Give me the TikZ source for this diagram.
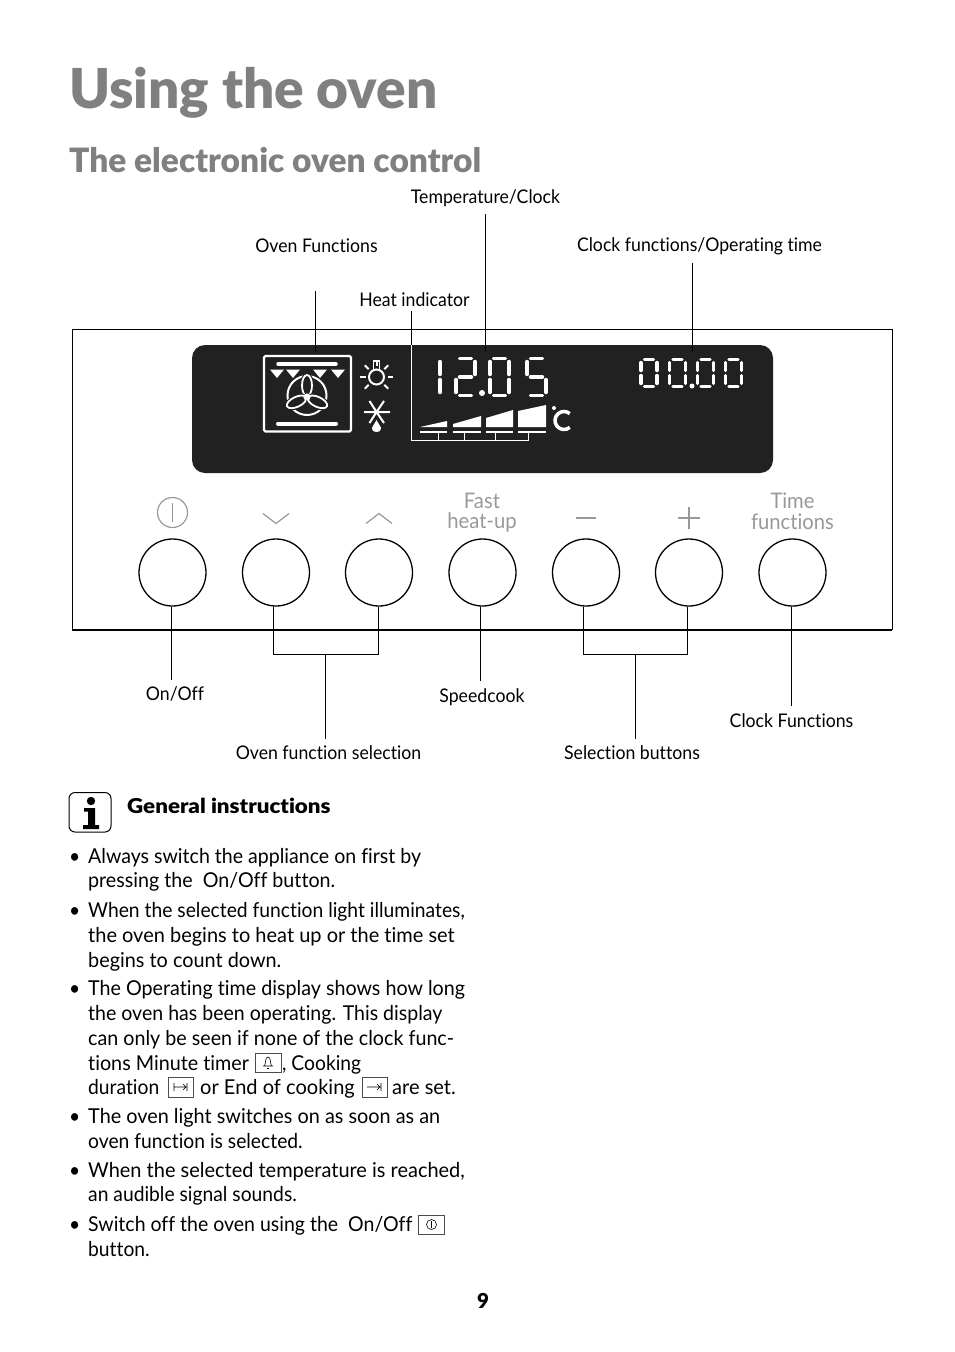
\documentclass[tikz,border=0pt]{standalone}
\usepackage{fontspec}
\usepackage{graphicx}
\usetikzlibrary{calc}
\setmainfont[Ligatures=NoCommon,FakeStretch=0.94]{Lato}
\newfontfamily\blk[Ligatures=NoCommon]{Lato Black}
\definecolor{dk}{gray}{0.13}
\definecolor{ttl}{gray}{0.5}
\definecolor{gic}{gray}{0.6}
\tikzset{
 x=1pt,y=-1pt,
 body/.style={anchor=base west,inner sep=0pt,font=\fontsize{20.5}{24}\selectfont,text=black},
 lbl/.style={inner sep=0pt,font=\fontsize{18.8}{22}\selectfont,text=black},
 gl/.style={inner sep=0pt,font=\fontsize{21.5}{21}\selectfont,text=gic},
 btn/.style={circle,draw=black,line width=1.3pt,fill=white,minimum size=67pt,inner sep=0pt},
 conn/.style={draw=black,line width=0.8pt},
 seg/.style={draw=white,line width=3.4pt,line cap=round},
 wl/.style={draw=white,line width=2pt},
 ic/.style={draw=white,line width=1.8pt},
 kbox/.style={draw=black!70,line width=0.6pt,fill=white},
 kic/.style={draw=black,line width=0.6pt},
 gic/.style={draw=gic,line width=1.2pt}
}
\newcommand\dig[5]{\def\X{#1}\def\Y{#2}\def\W{#3}\def\H{#4}#5}
\newcommand\sga{\draw[seg] (\X+3.5,\Y) -- (\X+\W-3.5,\Y);}
\newcommand\sgb{\draw[seg] (\X+\W,\Y+3) -- (\X+\W,\Y+\H/2-2.5);}
\newcommand\sgc{\draw[seg] (\X+\W,\Y+\H/2+2.5) -- (\X+\W,\Y+\H-3);}
\newcommand\sgd{\draw[seg] (\X+3.5,\Y+\H) -- (\X+\W-3.5,\Y+\H);}
\newcommand\sge{\draw[seg] (\X,\Y+\H/2+2.5) -- (\X,\Y+\H-3);}
\newcommand\sgf{\draw[seg] (\X,\Y+3) -- (\X,\Y+\H/2-2.5);}
\newcommand\sgg{\draw[seg] (\X+3.5,\Y+\H/2) -- (\X+\W-3.5,\Y+\H/2);}
\newcommand\tl[5][1]{\node[body] (#2) at (#3,#4) {\scalebox{#1}[1]{#5}};}
\begin{document}
\begin{tikzpicture}
\useasboundingbox (0,0) rectangle (954,1352);
\fill[white] (0,0) rectangle (954,1352);
% titles
\node[anchor=base west,inner sep=0pt,text=ttl,font=\fontsize{55}{60}\selectfont\blk] (title) at (69,108.5) {Using the oven};
\node[anchor=base west,inner sep=0pt,text=ttl,font=\fontsize{33.5}{36}\selectfont\blk] (sub) at (69,172) {The electronic oven control};
% panel
\draw[black,line width=0.6pt] (72,630) -- (72,329.5) -- (892,329.5) -- (892,630);
\draw[black,line width=1.2pt] (72,630) -- (892,630);
\fill[dk,rounded corners=13pt] (192,345) rectangle (773,473);
% labels
\node[lbl] (lTemp) at (485.5,198) {Temperature/Clock};
\node[lbl] (lOven) at (316.5,245.5) {Oven Functions};
\node[lbl] (lClock) at (699.5,246) {Clock functions/Operating time};
\node[lbl] (lHeat) at (414.5,299.5) {Heat indicator};
\node[lbl] (lOnOff) at (175,694) {On/Off};
\node[lbl] (lSpeed) at (482,697) {Speedcook};
\node[lbl] (lCF) at (791.5,720.5) {Clock Functions};
\node[lbl] (lOFS) at (328.5,752.5) {Oven function selection};
\node[lbl] (lSB) at (632,752.5) {Selection buttons};
% top connectors
\coordinate (cOvenT) at (315,291);
\coordinate (cOvenB) at (315,352);
\coordinate (cTempT) at (485,214);
\coordinate (cTempB) at (485,352);
\coordinate (cClockT) at (692,263);
\coordinate (cClockB) at (692,352);
\coordinate (cHeatT) at (411,311);
\coordinate (cHeatB) at (411,345);
\draw[conn] (cOvenT) -- (cOvenB);
\draw[conn] (cTempT) -- (cTempB);
\draw[conn] (cClockT) -- (cClockB);
\draw[conn] (cHeatT) -- (cHeatB);
% oven icon
\draw[white,line width=2.2pt,rounded corners=1.5pt] (264,356) rectangle (351,431.5);
\draw[white,line width=3.5pt,line cap=round] (278,364) -- (336,364);
\draw[white,line width=4pt,line cap=round] (278,423.5) -- (336,423.5);
\foreach \tx in {277,293,320,338}{
  \fill[white] (\tx-7,369.5) -- (\tx+7,369.5) -- (\tx,378) -- cycle;
}
\draw[white,line width=2pt] (307,395.5) circle (19.5);
\foreach \a in {90,205,335}{
  \begin{scope}[shift={(307,397)},rotate=\a]
   \draw[draw=dk,line width=4pt,fill=dk] (11.5,0) ellipse (10.5 and 5);
   \draw[ic,fill=dk] (11.5,0) ellipse (10.5 and 5);
  \end{scope}
}
\draw[ic,fill=white] (307,397) circle (2.6);
% lamp
\draw[white,line width=2pt] (376.5,377) circle (7.5);
\draw[white,line width=1.8pt] (373.5,369.5) -- (373.5,361) -- (379.5,361) -- (379.5,369.5);
\foreach \a in {0,45,135,180,225,270,315}{
  \draw[white,line width=2pt] ($(376.5,377)+(\a:11)$) -- ($(376.5,377)+(\a:16.5)$);
}
% snowflake
\draw[white,line width=2pt] (364,412) -- (390,412) (369.5,401) -- (376.5,412) -- (384,401) (369.5,423) -- (376.5,412) -- (384,423);
\fill[white] (376.5,420) .. controls (379,425) and (381.5,427) .. (381,429) .. controls (380.5,433) and (372.5,433) .. (372,429) .. controls (371.5,427) and (374,425) .. (376.5,420) -- cycle;
% digits
\dig{440}{358.5}{0}{37}{\sgb\sgc}
\dig{456}{358.5}{19}{37}{\sga\sgb\sgg\sge\sgd}
\dig{490}{358.5}{19}{37}{\sga\sgb\sgc\sgd\sge\sgf}
\dig{527}{358.5}{19}{37}{\sga\sgf\sgg\sgc\sgd}
\fill[white] (482,393) circle (3);
\dig{641}{359.5}{16}{27}{\sga\sgb\sgc\sgd\sge\sgf}
\dig{669.5}{359.5}{16}{27}{\sga\sgb\sgc\sgd\sge\sgf}
\dig{697.5}{359.5}{16}{27}{\sga\sgb\sgc\sgd\sge\sgf}
\dig{725.5}{359.5}{16}{27}{\sga\sgb\sgc\sgd\sge\sgf}
\fill[white] (692,386) circle (2.5);
% heat bars
\fill[white] (420,427) -- (447,421) -- (447,427) -- cycle;
\fill[white] (453,427) -- (453,424) -- (481,416) -- (481,427) -- cycle;
\fill[white] (486,427) -- (486,418) -- (513,410) -- (513,427) -- cycle;
\fill[white] (518,427) -- (518,411) -- (546,405) -- (546,427) -- cycle;
\foreach \a/\b in {420/447,453/481,486/513,518/546}{
  \draw[wl] (\a,432) -- (\b,432);
}
\draw[white,line width=1pt] (411,345) -- (411,440) -- (528,440);
\foreach \tx in {438,464,495,528}{
  \draw[white,line width=1pt] (\tx,432) -- (\tx,441);
}
% deg C
\fill[white] (554,408) circle (2);
\draw[white,line width=3.5pt] ($(564,420.5)+(50:9)$) arc[start angle=50,end angle=310,radius=9];
% gray symbols
\draw[gic] (172.5,512.5) circle (15);
\draw[gic] (172.5,503) -- (172.5,522);
\draw[gic] (263,513.5) -- (276,523.5) -- (289,513.5);
\draw[gic] (366,523.5) -- (379,513.5) -- (392,523.5);
\draw[gic,line width=2pt] (576,517.5) -- (596,517.5);
\draw[gic] (678,518) -- (700,518) (689,507) -- (689,529);
\node[gl] (gFast) at (482,500.5) {Fast};
\node[gl] (gHeat) at (482,522) {heat-up};
\node[gl] (gTime) at (792.5,500.5) {Time};
\node[gl] (gFunc) at (792.5,522) {functions};
% buttons
\foreach \n/\bx in {b1/172.5,b2/276,b3/379,b4/482.5,b5/586,b6/689,b7/792.5}{
  \node[btn] (\n) at (\bx,572.5) {};
}
% bottom connectors
\coordinate (cOn) at (171,680);
\coordinate (cSp) at (480,681);
\coordinate (cCF) at (791,706);
\coordinate (cA1) at (273,654.5);
\coordinate (cA2) at (378,654.5);
\coordinate (cA3) at (325,654.5);
\coordinate (cA4) at (325,739);
\coordinate (cB1) at (583,654.5);
\coordinate (cB2) at (687.5,654.5);
\coordinate (cB3) at (635,654.5);
\coordinate (cB4) at (635,739);
\draw[conn] (b1.south -| cOn) -- (cOn);
\draw[conn] (b4.south -| cSp) -- (cSp);
\draw[conn] (b7.south -| cCF) -- (cCF);
\draw[conn] (b2.south -| cA1) -- (cA1) -- (cA2) -- (b3.south -| cA2);
\draw[conn] (cA3) -- (cA4);
\draw[conn] (b5.south -| cB1) -- (cB1) -- (cB2) -- (b6.south -| cB2);
\draw[conn] (cB3) -- (cB4);
% info icon
\draw[black,line width=1pt,rounded corners=6pt] (69,792.5) rectangle (111,832);
\fill[black] (91,801) circle (4.2);
\fill[black] (84,808) -- (95,808) -- (95,825) -- (99,825) -- (99,829) -- (83,829) -- (83,825) -- (88,825) -- (88,811.5) -- (84,811.5) -- cycle;
\node[anchor=base west,inner sep=0pt,font=\fontsize{20.5}{24}\selectfont\blk] (gen) at (127,813) {\scalebox{1.09}[1]{General instructions}};
% body
\newcommand\bul[2]{\node[body] (#1) at (69,#2) {•};}
\bul{p1}{863}\bul{p2}{917}\bul{p3}{995}\bul{p4}{1123}\bul{p5}{1177}\bul{p6}{1231}
\tl[1.015]{a1}{88}{863}{Always switch the appliance on first by}
\tl[1.02]{a2}{88}{887}{pressing the \ On/Off button.}
\tl{a3}{88}{917}{When the selected function light illuminates,}
\tl[1.037]{a4}{88}{942}{the oven begins to heat up or the time set}
\tl[1.03]{a5}{88}{967}{begins to count down.}
\tl[1.022]{a6}{88}{995}{The Operating time display shows how long}
\tl[1.014]{a7}{88}{1020}{the oven has been operating. This display}
\tl[1.022]{a8}{88}{1045}{can only be seen if none of the clock func-}
\tl[1.025]{a9}{88}{1070}{tions Minute timer}
\tl{a9b}{282}{1070}{, Cooking}
\tl{a10}{88}{1094}{duration}
\tl[1.04]{a10b}{200}{1094}{or End of cooking}
\tl[1.04]{a10c}{392}{1094}{are set.}
\tl[1.03]{a11}{88}{1123}{The oven light switches on as soon as an}
\tl{a12}{88}{1148}{oven function is selected.}
\tl[1.036]{a13}{88}{1177}{When the selected temperature is reached,}
\tl{a14}{88}{1201}{an audible signal sounds.}
\tl[1.012]{a15}{88}{1231}{Switch off the oven using the \ On/Off}
\tl{a16}{88}{1256}{button.}
% inline key icons
\draw[kbox] (255.5,1053) rectangle (281,1072);
\draw[kic] (263,1066) -- (273,1066) (264.5,1066) .. controls (266,1063) and (265,1057) .. (268,1057) .. controls (271,1057) and (270,1063) .. (271.5,1066);
\draw[kic] (267,1068) -- (269,1068);
\draw[kbox] (168,1077.5) rectangle (193,1097);
\draw[kic] (174,1083) -- (174,1091) (174,1087) -- (186,1087) (183,1084) -- (186,1087) -- (183,1090) (187,1083) -- (187,1091);
\draw[kbox] (362,1077.5) rectangle (387,1097);
\draw[kic] (367,1087) -- (380,1087) (377,1084) -- (380,1087) -- (377,1090) (381,1083) -- (381,1091);
\draw[kbox] (418.5,1215) rectangle (444.5,1234);
\draw[kic] (431.5,1224.5) circle (5);
\draw[kic] (431.5,1221) -- (431.5,1228);
\node[anchor=base,inner sep=0pt,font=\fontsize{20.5}{24}\selectfont\blk] (pg) at (483,1308) {9};
\end{tikzpicture}
\end{document}
